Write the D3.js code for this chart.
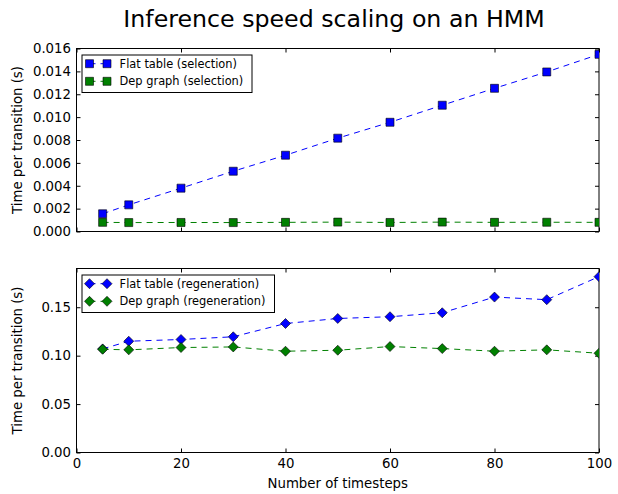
<!DOCTYPE html>
<html>
<head>
<meta charset="utf-8">
<script src="https://cdn.jsdelivr.net/npm/d3@7"></script>
<style>
  body { margin: 0; background: #fff; }
  svg { font-family: "DejaVu Sans", sans-serif; }
</style>
</head>
<body>
<script>
const timesteps = [5, 10, 20, 30, 40, 50, 60, 70, 80, 90, 100];
const flatSelection = [0.00155, 0.00233, 0.00379, 0.00527, 0.00667, 0.00816, 0.00955, 0.01104, 0.01252, 0.01395, 0.01549];
const depSelection = [0.00080, 0.00078, 0.00079, 0.00078, 0.00080, 0.00082, 0.00079, 0.00082, 0.00080, 0.00081, 0.00080];
const flatRegen = [0.1070, 0.1149, 0.1167, 0.1195, 0.1332, 0.1384, 0.1402, 0.1443, 0.1605, 0.1578, 0.1816];
const depRegen = [0.1066, 0.1060, 0.1084, 0.1090, 0.1046, 0.1056, 0.1094, 0.1073, 0.1046, 0.1060, 0.1025];

const topTicks = [0, 0.002, 0.004, 0.006, 0.008, 0.010, 0.012, 0.014, 0.016];
const bottomTicks = [0, 0.05, 0.10, 0.15];
const xTicks = [0, 20, 40, 60, 80, 100];

const W = 618, H = 494;
const left = 76.5, right = 599;

const svg = d3.select('body').append('svg')
  .attr('width', W).attr('height', H);

const x = d3.scaleLinear().domain([0, 100]).range([left, right]);

svg.append('text')
  .attr('x', 334).attr('y', 27)
  .attr('text-anchor', 'middle')
  .style('font-size', '23.7px')
  .text('Inference speed scaling on an HMM');

function panel(cfg) {
  const y = d3.scaleLinear().domain(cfg.domain).range([cfg.bottom, cfg.top]);
  const g = svg.append('g');
  const clipId = 'clip' + cfg.id;
  svg.append('clipPath').attr('id', clipId)
    .append('rect').attr('x', left).attr('y', cfg.top)
    .attr('width', right - left).attr('height', cfg.bottom - cfg.top);

  // ticks point inward on all four sides
  const axL = g.append('g').attr('transform', `translate(${left},0)`)
    .call(d3.axisLeft(y).tickValues(cfg.ticks).tickFormat(cfg.fmt).tickSizeInner(-4).tickSizeOuter(0).tickPadding(5.5));
  const axR = g.append('g').attr('transform', `translate(${right},0)`)
    .call(d3.axisRight(y).tickValues(cfg.ticks).tickFormat('').tickSizeInner(-4).tickSizeOuter(0));
  const axB = g.append('g').attr('transform', `translate(0,${cfg.bottom})`)
    .call(d3.axisBottom(x).tickValues(xTicks).tickFormat(cfg.xlabels ? d3.format('d') : '').tickSizeInner(-4).tickSizeOuter(0).tickPadding(6));
  const axT = g.append('g').attr('transform', `translate(0,${cfg.top})`)
    .call(d3.axisTop(x).tickValues(xTicks).tickFormat('').tickSizeInner(-4).tickSizeOuter(0));
  [axL, axR, axB, axT].forEach(a => {
    a.select('.domain').remove();
    a.selectAll('.tick line').attr('stroke', '#000');
    a.selectAll('text').attr('font-family', 'DejaVu Sans').attr('fill', '#000').style('font-size', '13.3px');
  });

  g.append('rect').attr('x', left).attr('y', cfg.top)
    .attr('width', right - left).attr('height', cfg.bottom - cfg.top)
    .attr('fill', 'none').attr('stroke', '#000').attr('stroke-width', 1);

  g.append('text')
    .attr('transform', `translate(22,${(cfg.top + cfg.bottom) / 2}) rotate(-90)`)
    .attr('text-anchor', 'middle')
    .style('font-size', '13.3px')
    .text('Time per transition (s)');

  const plot = g.append('g').attr('clip-path', `url(#${clipId})`);
  const line = d3.line().x((d, i) => x(timesteps[i])).y(d => y(d));

  cfg.series.forEach(s => {
    plot.append('path').datum(s.values)
      .attr('d', line).attr('fill', 'none')
      .attr('stroke', s.color).attr('stroke-width', 1)
      .attr('stroke-dasharray', '6,5');
    plot.selectAll(null).data(s.values).enter().append('path')
      .attr('transform', (d, i) => `translate(${x(timesteps[i])},${y(d)})`)
      .attr('d', cfg.symbol)
      .attr('fill', s.color).attr('stroke', '#000').attr('stroke-width', 0.6);
  });

  // legend
  const lg = g.append('g').attr('transform', `translate(${left + 5.5},${cfg.top + 6.5})`);
  lg.append('rect').attr('width', cfg.legendW).attr('height', 37.5)
    .attr('fill', '#fff').attr('stroke', '#000').attr('stroke-width', 1);
  cfg.series.forEach((s, i) => {
    const cy = 8.7 + i * 17.6;
    lg.append('line').attr('x1', 7.5).attr('x2', 25).attr('y1', cy).attr('y2', cy)
      .attr('stroke', s.color).attr('stroke-dasharray', '6,5');
    [7.5, 25].forEach(px => {
      lg.append('path').attr('transform', `translate(${px},${cy})`)
        .attr('d', cfg.symbol)
        .attr('fill', s.color).attr('stroke', '#000').attr('stroke-width', 0.6);
    });
    lg.append('text').attr('x', 37.6).attr('y', cy).attr('dy', '0.35em')
      .style('font-size', '11.4px').text(s.name);
  });
}

const square = 'M-4,-4H4V4H-4Z';
const diamond = 'M0,-5L5,0L0,5L-5,0Z';

panel({
  id: 'top', top: 48.5, bottom: 231.5, domain: [0, 0.016], ticks: topTicks,
  fmt: d3.format('.3f'), xlabels: false, symbol: square, legendW: 170,
  series: [
    { name: 'Flat table (selection)', values: flatSelection, color: '#0000ff' },
    { name: 'Dep graph (selection)', values: depSelection, color: '#008000' }
  ]
});

panel({
  id: 'bottom', top: 268.5, bottom: 452.5, domain: [0, 0.19], ticks: bottomTicks,
  fmt: d3.format('.2f'), xlabels: true, symbol: diamond, legendW: 192.5,
  series: [
    { name: 'Flat table (regeneration)', values: flatRegen, color: '#0000ff' },
    { name: 'Dep graph (regeneration)', values: depRegen, color: '#008000' }
  ]
});

svg.append('text')
  .attr('x', (left + right) / 2).attr('y', 487.5)
  .attr('text-anchor', 'middle')
  .style('font-size', '13.3px')
  .text('Number of timesteps');
</script>
</body>
</html>
